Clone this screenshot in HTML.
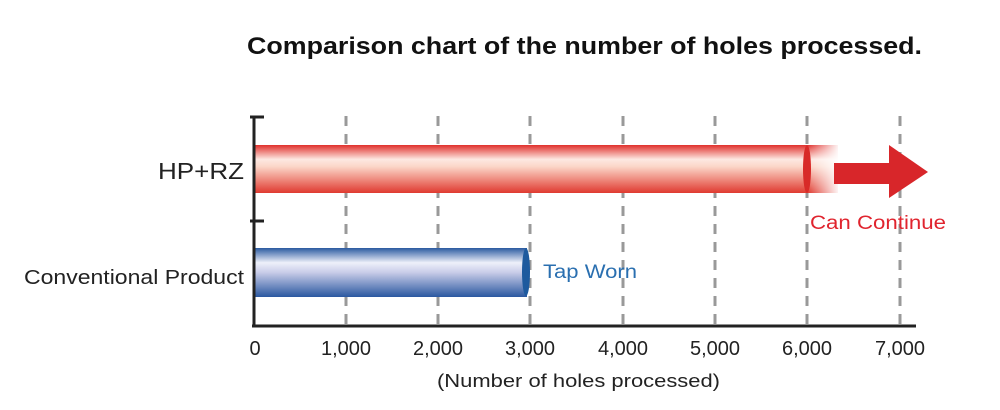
<!DOCTYPE html>
<html><head><style>body{margin:0;background:#fff}svg{display:block}</style></head><body>
<svg width="1000" height="410" xmlns="http://www.w3.org/2000/svg" font-family="Liberation Sans, sans-serif">
<defs>
<linearGradient id="r" x1="0" y1="0" x2="0" y2="1">
<stop offset="0" stop-color="#e0302c"/><stop offset="0.3" stop-color="#fde8e2"/><stop offset="0.45" stop-color="#fbd6c8"/><stop offset="1" stop-color="#e03a30"/></linearGradient>
<linearGradient id="b" x1="0" y1="0" x2="0" y2="1">
<stop offset="0" stop-color="#2a5aa0"/><stop offset="0.3" stop-color="#eef0fa"/><stop offset="0.5" stop-color="#c8cce8"/><stop offset="1" stop-color="#2a58a0"/></linearGradient>
<linearGradient id="f" x1="0" y1="0" x2="1" y2="0">
<stop offset="0" stop-color="#fff" stop-opacity="0"/><stop offset="1" stop-color="#fff" stop-opacity="1"/></linearGradient>
</defs>
<text x="247" y="54" textLength="675" lengthAdjust="spacingAndGlyphs" font-size="24" font-weight="bold" fill="#111">Comparison chart of the number of holes processed.</text>
<g stroke="#999" stroke-width="3" stroke-dasharray="10,8">
<line x1="346" y1="116" x2="346" y2="326"/><line x1="438" y1="116" x2="438" y2="326"/><line x1="530" y1="116" x2="530" y2="326"/><line x1="623" y1="116" x2="623" y2="326"/><line x1="715" y1="116" x2="715" y2="326"/><line x1="807" y1="116" x2="807" y2="326"/><line x1="900" y1="116" x2="900" y2="326"/>
</g>
<rect x="254" y="145" width="584" height="48" fill="url(#r)"/>
<rect x="808" y="140" width="32" height="58" fill="url(#f)"/>
<ellipse cx="807" cy="169" rx="4" ry="24" fill="#d82a28"/>
<rect x="834" y="163" width="58" height="21" fill="#d8262a"/>
<polygon points="889,145 928,172 889,198" fill="#d8262a"/>
<rect x="254" y="248" width="273" height="49" fill="url(#b)"/>
<ellipse cx="526" cy="272" rx="4" ry="24" fill="#1e5a9e"/>
<g stroke="#222" stroke-width="3" fill="none">
<line x1="254" y1="116" x2="254" y2="326"/><line x1="252" y1="326" x2="916" y2="326"/>
<line x1="250" y1="117" x2="264" y2="117"/><line x1="250" y1="221" x2="264" y2="221"/>
</g>
<text x="158" y="179" textLength="86" lengthAdjust="spacingAndGlyphs" font-size="23" fill="#222">HP+RZ</text>
<text x="24" y="284" textLength="220" lengthAdjust="spacingAndGlyphs" font-size="20" fill="#222">Conventional Product</text>
<text x="543" y="278" textLength="94" lengthAdjust="spacingAndGlyphs" font-size="19" fill="#2a6fb0">Tap Worn</text>
<text x="810" y="229" textLength="136" lengthAdjust="spacingAndGlyphs" font-size="19" fill="#e0242e">Can Continue</text>
<g font-size="20" fill="#222" text-anchor="middle">
<text x="255" y="355">0</text><text x="346" y="355">1,000</text><text x="438" y="355">2,000</text><text x="530" y="355">3,000</text><text x="623" y="355">4,000</text><text x="715" y="355">5,000</text><text x="807" y="355">6,000</text><text x="900" y="355">7,000</text>
</g>
<text x="437" y="387" textLength="283" lengthAdjust="spacingAndGlyphs" font-size="18" fill="#222">(Number of holes processed)</text>
</svg>
</body></html>
